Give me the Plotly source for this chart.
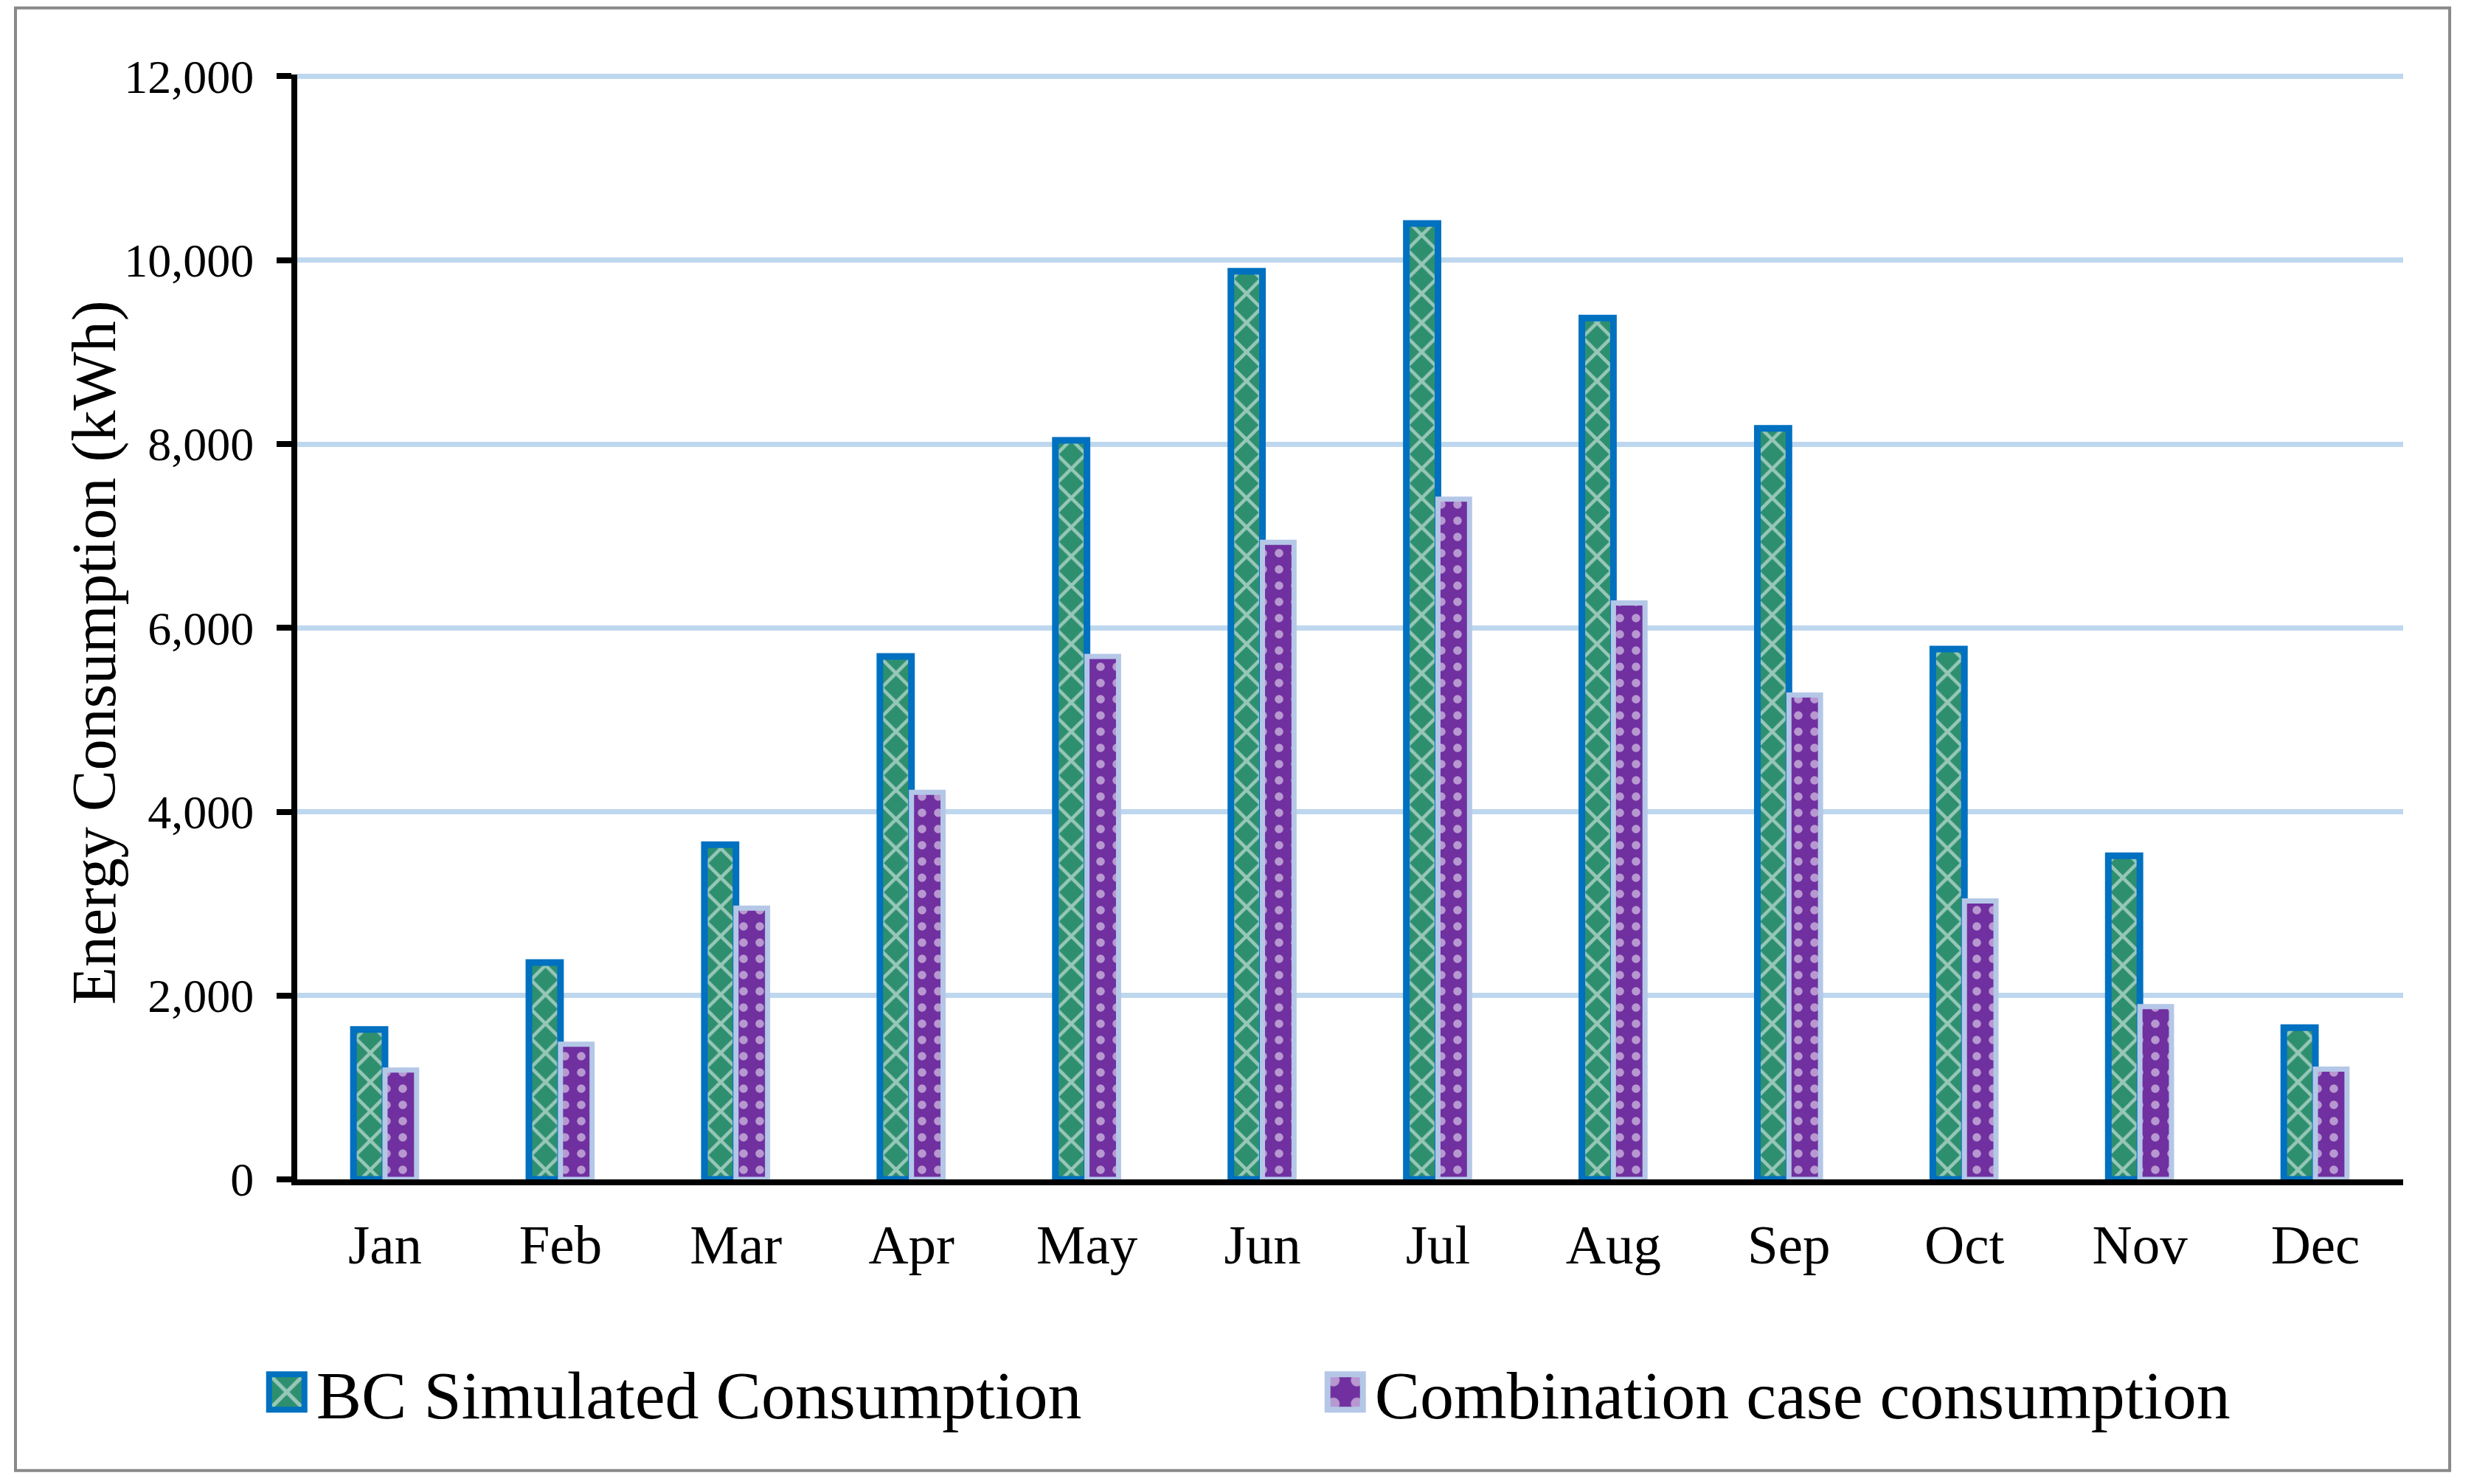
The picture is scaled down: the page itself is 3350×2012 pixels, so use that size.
import plotly.graph_objects as go

months = ["Jan", "Feb", "Mar", "Apr", "May", "Jun", "Jul", "Aug", "Sep", "Oct", "Nov", "Dec"]
bc_values = [1630, 2360, 3640, 5690, 8040, 9880, 10400, 9370, 8170, 5770, 3520, 1650]
combo_values = [1190, 1470, 2950, 4210, 5690, 6930, 7400, 6270, 5270, 3030, 1880, 1200]
y_tick_values = [0, 2000, 4000, 6000, 8000, 10000, 12000]
y_tick_labels = ["0", "2,000", "4,000", "6,000", "8,000", "10,000", "12,000"]

FONT = "Liberation Serif, Times New Roman, serif"
GREEN = "#2E8F6F"
PURPLE = "#7030A0"

fig = go.Figure()
fig.add_trace(go.Bar(
    x=months, y=bc_values, name="BC Simulated Consumption",
    marker=dict(
        color=GREEN,
        line=dict(color="#0070C0", width=9),
        pattern=dict(shape="x", fgcolor="white", bgcolor=GREEN, size=28, solidity=0.3),
    ),
))
fig.add_trace(go.Bar(
    x=months, y=combo_values, name="Combination case consumption",
    marker=dict(
        color=PURPLE,
        line=dict(color="#B4C7E7", width=7),
        pattern=dict(shape=".", fgcolor="white", bgcolor=PURPLE, size=22, solidity=0.22),
    ),
))

fig.update_layout(
    width=3350, height=2012,
    paper_bgcolor="white", plot_bgcolor="white",
    margin=dict(l=403, r=92, t=101, b=413),
    barmode="group", bargap=0.64, bargroupgap=0,
    font=dict(family=FONT, color="black"),
    showlegend=True,
    legend=dict(
        orientation="h", x=-0.019, y=-0.1926, xanchor="left", yanchor="middle",
        font=dict(family=FONT, size=92, color="black"),
        itemwidth=70, entrywidth=1350, bgcolor="rgba(0,0,0,0)",
    ),
    xaxis=dict(
        showline=True, linecolor="black", linewidth=8,
        ticks="", showgrid=False,
        tickfont=dict(family=FONT, size=75, color="black"),
        ticklabelstandoff=16,
    ),
    yaxis=dict(
        range=[0, 12020], tickvals=y_tick_values, ticktext=y_tick_labels,
        showline=True, linecolor="black", linewidth=8,
        ticks="outside", ticklen=20, tickwidth=8, tickcolor="black",
        showgrid=True, gridcolor="#BDD7EE", gridwidth=7, zeroline=False,
        tickfont=dict(family=FONT, size=64, color="black"),
        ticklabelstandoff=18,
    ),
    annotations=[dict(
        text="Energy Consumption (kWh)", textangle=-90,
        xref="paper", yref="paper", x=-0.096, y=0.477,
        xanchor="center", yanchor="middle", showarrow=False,
        font=dict(family=FONT, size=84, color="black"),
    )],
    shapes=[dict(
        type="rect", xref="paper", yref="paper",
        x0=-0.1338, x1=1.0221, y0=-0.2635, y1=1.0602,
        line=dict(color="#898989", width=4), fillcolor="rgba(0,0,0,0)", layer="below",
    )],
)

post = (
    "document.body.style.margin='0';document.body.style.overflow='hidden';"
    "document.querySelectorAll('.legend .legendpoints path').forEach(function(p){"
    "var t=p.getAttribute('transform')||'';"
    "p.setAttribute('transform',t+' scale(4)');"
    "p.style.strokeWidth='2px';});"
)
fig.write_html("out.html", config=dict(displayModeBar=False), post_script=post)
